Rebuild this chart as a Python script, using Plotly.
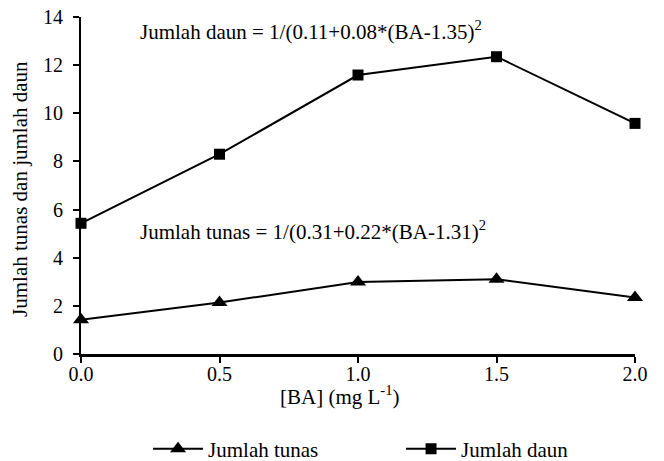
import plotly.graph_objects as go

ba = [0.0, 0.5, 1.0, 1.5, 2.0]
jumlah_tunas = [1.42, 2.14, 2.99, 3.11, 2.35]
jumlah_daun = [5.43, 8.30, 11.59, 12.35, 9.58]

font_family = "Times New Roman, Liberation Serif, DejaVu Serif, serif"

fig = go.Figure()
fig.add_trace(go.Scatter(
    x=ba, y=jumlah_tunas, name="Jumlah tunas", mode="lines+markers",
    line=dict(color="black", width=2),
    marker=dict(symbol="triangle-up", size=14, color="black"),
    cliponaxis=False,
))
fig.add_trace(go.Scatter(
    x=ba, y=jumlah_daun, name="Jumlah daun", mode="lines+markers",
    line=dict(color="black", width=2),
    marker=dict(symbol="square", size=11, color="black"),
    cliponaxis=False,
))

fig.add_annotation(x=0.207, y=13.45, xref="x", yref="y", xanchor="left", yanchor="middle",
                   text="Jumlah daun = 1/(0.11+0.08*(BA-1.35)<sup>2</sup>",
                   showarrow=False, font=dict(size=21, color="black", family=font_family))
fig.add_annotation(x=0.207, y=5.15, xref="x", yref="y", xanchor="left", yanchor="middle",
                   text="Jumlah tunas = 1/(0.31+0.22*(BA-1.31)<sup>2</sup>",
                   showarrow=False, font=dict(size=21, color="black", family=font_family))
# axis titles
fig.add_annotation(x=0.4675, y=-0.124, xref="paper", yref="paper", xanchor="center", yanchor="middle",
                   text="[BA] (mg L<sup>-1</sup>)",
                   showarrow=False, font=dict(size=21, color="black", family=font_family))
fig.add_annotation(x=-0.110, y=0.49, xref="paper", yref="paper", xanchor="center", yanchor="middle",
                   text="Jumlah tunas dan jumlah daun", textangle=-90,
                   showarrow=False, font=dict(size=21, color="black", family=font_family))

fig.update_layout(
    width=664, height=461,
    margin=dict(l=81, r=29, t=17, b=107, autoexpand=False),
    paper_bgcolor="white", plot_bgcolor="white",
    font=dict(family=font_family, size=21, color="black"),
    showlegend=True,
    legend=dict(orientation="h", xref="paper", x=0.121, xanchor="left",
                yref="container", y=0.026, yanchor="middle",
                font=dict(size=21, family=font_family), traceorder="normal",
                itemwidth=50,
                entrywidthmode="pixels", entrywidth=188),
)
fig.update_xaxes(
    range=[0, 2], dtick=0.5, tickformat=".1f", showgrid=False, zeroline=False,
    showline=True, linecolor="black", linewidth=2.5,
    ticks="outside", ticklen=6, tickwidth=1.5, tickcolor="black",
    tickfont=dict(size=20, family=font_family), automargin=False, ticklabelstandoff=-6,
)
fig.update_yaxes(
    range=[0, 14], dtick=2, showgrid=False, zeroline=False,
    showline=True, linecolor="black", linewidth=1.8,
    ticks="outside", ticklen=6, tickwidth=1.5, tickcolor="black",
    tickfont=dict(size=20, family=font_family), automargin=False, ticklabelstandoff=6,
)

fig.write_html("out.html", config={"displayModeBar": False},
               post_script="document.body.style.margin='0';")
